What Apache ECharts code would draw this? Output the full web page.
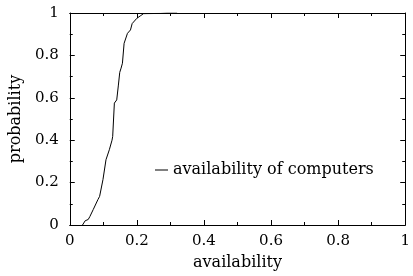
<!DOCTYPE html>
<html>
<head>
<meta charset="utf-8">
<script src="https://cdn.jsdelivr.net/npm/echarts@6/dist/echarts.min.js"></script>
<style>
html, body { margin: 0; padding: 0; background: #fff; }
#main { width: 413px; height: 276px; }
</style>
</head>
<body>
<div id="main"></div>
<script>
// availability values (x) and cumulative probability (y)
var availX = [0.038, 0.040, 0.046, 0.055, 0.060, 0.070, 0.084, 0.089, 0.099, 0.108, 0.118, 0.126, 0.128, 0.133, 0.140, 0.145, 0.149, 0.153, 0.157, 0.162, 0.172, 0.181, 0.186, 0.200, 0.210, 0.220, 0.270, 0.290, 0.320];
var probY  = [0.000, 0.007, 0.020, 0.026, 0.040, 0.073, 0.120, 0.135, 0.214, 0.308, 0.355, 0.400, 0.418, 0.575, 0.590, 0.660, 0.720, 0.740, 0.763, 0.857, 0.904, 0.920, 0.950, 0.975, 0.986, 0.997, 0.998, 1.000, 1.000];
var seriesName = 'availability of computers';

var font = '"DejaVu Serif", "Liberation Serif", serif';

var points = [];
for (var i = 0; i < availX.length; i++) {
    points.push([availX[i], probY[i]]);
}

var myChart = echarts.init(document.getElementById('main'));

function tick() {
    return { show: true, inside: true, length: 5, lineStyle: { color: '#000', width: 1 } };
}
function minor() {
    return { show: true, splitNumber: 2, length: 3, lineStyle: { color: '#000', width: 1 } };
}
function line() {
    return { show: true, onZero: false, lineStyle: { color: '#000', width: 1 } };
}

var option = {
    animation: false,
    backgroundColor: '#fff',
    grid: { left: 66, right: 3, top: 13, bottom: 50.5 },
    legend: {
        left: 150,
        top: 157,
        data: [seriesName],
        icon: 'rect',
        itemWidth: 13,
        itemHeight: 1,
        itemGap: 0,
        textStyle: { fontFamily: font, fontSize: 16, color: '#000' }
    },
    xAxis: [
        {
            type: 'value', min: 0, max: 1, interval: 0.2,
            name: 'availability', nameLocation: 'middle', nameGap: 30,
            nameTextStyle: { fontFamily: font, fontSize: 16, color: '#000' },
            axisLine: line(), axisTick: tick(), minorTick: minor(),
            axisLabel: { fontFamily: font, fontSize: 15, color: '#000', margin: 9, showMaxLabel: true },
            splitLine: { show: false }
        },
        {
            type: 'value', min: 0, max: 1, interval: 0.2, position: 'top',
            axisLine: line(), axisTick: tick(), minorTick: minor(),
            axisLabel: { show: false }, splitLine: { show: false }
        }
    ],
    yAxis: [
        {
            type: 'value', min: 0, max: 1, interval: 0.2,
            name: 'probability', nameLocation: 'middle', nameGap: 40,
            nameTextStyle: { fontFamily: font, fontSize: 16, color: '#000' },
            axisLine: line(), axisTick: tick(), minorTick: minor(),
            axisLabel: { fontFamily: font, fontSize: 15, color: '#000', margin: 11 },
            splitLine: { show: false }
        },
        {
            type: 'value', min: 0, max: 1, interval: 0.2, position: 'right',
            axisLine: line(), axisTick: tick(), minorTick: minor(),
            axisLabel: { show: false }, splitLine: { show: false }
        }
    ],
    series: [
        {
            name: seriesName,
            type: 'line',
            data: points,
            showSymbol: false,
            symbol: 'none',
            lineStyle: { color: '#000', width: 1 },
            itemStyle: { color: '#000' }
        }
    ]
};

myChart.setOption(option);
</script>
</body>
</html>
